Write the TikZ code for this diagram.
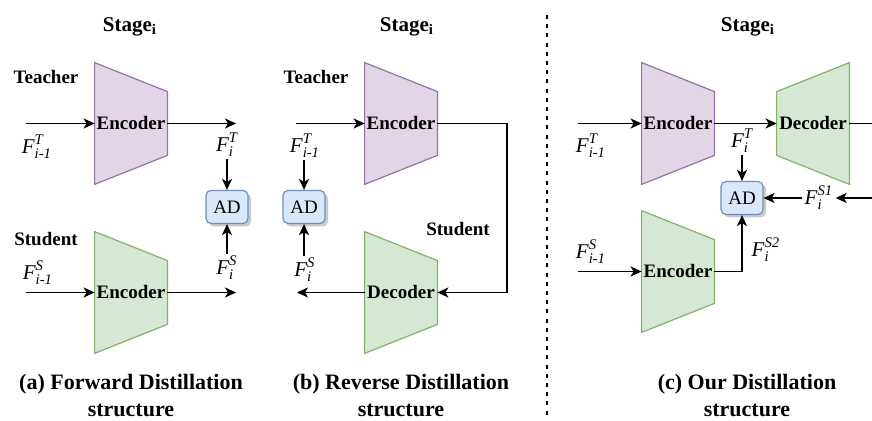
\documentclass[tikz,border=0pt]{standalone}
\usepackage{amsmath}
\usepackage{fontspec}
\setmainfont{LiberationSerif}[Extension=.ttf,UprightFont=*-Regular,BoldFont=*-Bold,ItalicFont=*-Italic,BoldItalicFont=*-BoldItalic]
\usetikzlibrary{arrows.meta,calc,backgrounds,shadows}
\definecolor{TeachFill}{RGB}{225,213,231}
\definecolor{TeachLine}{RGB}{150,115,166}
\definecolor{StudFill}{RGB}{213,232,212}
\definecolor{StudLine}{RGB}{130,179,102}
\definecolor{ADFill}{RGB}{218,232,252}
\definecolor{ADLine}{RGB}{108,142,191}
\newcommand{\feat}[2]{$\textit{F}^{\textit{#1}}_{\textit{#2}}$}

\tikzset{
  stage/.style={font=\bfseries\fontsize{10.5}{12}\selectfont},
  role/.style={font=\bfseries\fontsize{9.5}{11}\selectfont},
  block/.style={minimum width=36pt,minimum height=60.5pt,inner sep=0pt,font=\bfseries\fontsize{9.5}{11}\selectfont},
  ad/.style={draw=ADLine,fill=ADFill,line width=0.6pt,rounded corners=2.5pt,minimum width=21pt,minimum height=16.5pt,inner sep=0pt,
    font=\fontsize{9.5}{11}\selectfont,drop shadow={shadow xshift=1.5pt,shadow yshift=-1.5pt,fill=black!35,opacity=0.6}},
  feat/.style={font=\fontsize{10.5}{12}\selectfont,inner sep=1pt},
  flow/.style={line width=0.9pt,-{Stealth[length=5.5pt,width=5pt,inset=1.5pt]}},
  wire/.style={line width=0.9pt},
  caption/.style={align=center,font=\bfseries\fontsize{11}{13.5}\selectfont},
  teach/.style={draw=TeachLine,fill=TeachFill,line width=0.6pt},
  stud/.style={draw=StudLine,fill=StudFill,line width=0.6pt},
}

\begin{document}
\begin{tikzpicture}[x=0.5pt,y=-0.5pt]
  \useasboundingbox (0,0) rectangle (872,421);

  % (a) forward distillation
  \node[stage] (stageA) at (130,27) {Stage\textsubscript{i}};
  \node[role] (teachA) at (46,77) {Teacher};
  \node[block] (encA) at (131,123.5) {Encoder};
  \coordinate (inA) at (26,123.5);
  \coordinate (outA) at (236,123.5);
  \node[feat] (fpA) at (37,147) {\feat{T}{i-1}};
  \node[feat] (ftA) at (227,145) {\feat{T}{i}};
  \node[ad] (adA) at (227,207) {AD};
  \node[feat] (fsA) at (227,268) {\feat{S}{i}};
  \node[role] (studA) at (46,239) {Student};
  \node[block] (encSA) at (131,292.5) {Encoder};
  \coordinate (inSA) at (26,292.5);
  \coordinate (outSA) at (236,292.5);
  \node[feat] (fpSA) at (38,273) {\feat{S}{i-1}};
  \node[caption] (capA) at (131,396) {(a) Forward Distillation\\structure};
  \draw[flow] (inA) -- (encA.west);
  \draw[flow] (encA.east) -- (outA);
  \draw[flow] (ftA.south) -- (adA.north);
  \draw[flow] (fsA.north) -- (adA.south);
  \draw[flow] (inSA) -- (encSA.west);
  \draw[flow] (encSA.east) -- (outSA);

  % (b) reverse distillation
  \node[stage] (stageB) at (407,27) {Stage\textsubscript{i}};
  \node[role] (teachB) at (316,77) {Teacher};
  \node[block] (encB) at (401,123.5) {Encoder};
  \coordinate (inB) at (296,123.5);
  \coordinate (turnB) at (507,123.5);
  \node[feat] (fpB) at (305,146) {\feat{T}{i-1}};
  \node[ad] (adB) at (304,207) {AD};
  \node[feat] (fsB) at (305,270) {\feat{S}{i}};
  \node[role] (studB) at (458,229) {Student};
  \node[block] (decB) at (401,292.5) {Decoder};
  \coordinate (outB) at (297,292.5);
  \node[caption] (capB) at (401,396) {(b) Reverse Distillation\\structure};
  \draw[flow] (inB) -- (encB.west);
  \draw[flow] (encB.east) -- (turnB) |- (decB.east);
  \draw[flow] (decB.west) -- (outB);
  \draw[flow] (fpB.south -| adB) -- (adB.north);
  \draw[flow] (fsB.north -| adB) -- (adB.south);

  % divider
  \coordinate (topD) at (547,15);
  \coordinate (botD) at (547,417);
  \draw[line width=0.75pt,dash pattern=on 2pt off 2.6pt] (topD) -- (botD);

  % (c) our distillation
  \node[stage] (stageC) at (748,27) {Stage\textsubscript{i}};
  \node[block] (encC) at (678,123.5) {Encoder};
  \node[block] (decC) at (813,123.5) {Decoder};
  \coordinate (inC) at (578,123.5);
  \coordinate (edgeC) at (872,123.5);
  \node[feat] (fpC) at (591,146) {\feat{T}{i-1}};
  \node[feat] (ftC) at (742,141) {\feat{T}{i}};
  \node[ad] (adC) at (742,198) {AD};
  \node[feat] (fs1C) at (819,198) {\feat{S1}{i}};
  \coordinate (edgeS1) at (872,198);
  \node[block] (encSC) at (678,271.5) {Encoder};
  \coordinate (inSC) at (578,271.5);
  \node[feat] (fpSC) at (591,252) {\feat{S}{i-1}};
  \node[feat] (fs2C) at (766,250) {\feat{S2}{i}};
  \node[caption] (capC) at (747,396) {(c) Our Distillation\\structure};
  \draw[flow] (inC) -- (encC.west);
  \draw[flow] (encC.east) -- (decC.west);
  \draw[wire] (decC.east) -- (edgeC);
  \draw[flow] (ftC.south) -- (adC.north);
  \draw[flow] (edgeS1) -- (fs1C.east);
  \draw[flow] (fs1C.west) -- (adC.east);
  \draw[flow] (inSC) -- (encSC.west);
  \draw[flow] (encSC.east) -| (adC.south);

  % trapezoids behind the labels
  \begin{scope}[on background layer]
    \path[teach] (encA.north west) -- ([yshift=-14.5pt]encA.north east) -- ([yshift=14.5pt]encA.south east) -- (encA.south west) -- cycle;
    \path[stud] (encSA.north west) -- ([yshift=-14.5pt]encSA.north east) -- ([yshift=14.5pt]encSA.south east) -- (encSA.south west) -- cycle;
    \path[teach] (encB.north west) -- ([yshift=-14.5pt]encB.north east) -- ([yshift=14.5pt]encB.south east) -- (encB.south west) -- cycle;
    \path[stud] (decB.north west) -- ([yshift=-14.5pt]decB.north east) -- ([yshift=14.5pt]decB.south east) -- (decB.south west) -- cycle;
    \path[teach] (encC.north west) -- ([yshift=-14.5pt]encC.north east) -- ([yshift=14.5pt]encC.south east) -- (encC.south west) -- cycle;
    \path[stud] ([yshift=-14.5pt]decC.north west) -- (decC.north east) -- (decC.south east) -- ([yshift=14.5pt]decC.south west) -- cycle;
    \path[stud] (encSC.north west) -- ([yshift=-14.5pt]encSC.north east) -- ([yshift=14.5pt]encSC.south east) -- (encSC.south west) -- cycle;
  \end{scope}
\end{tikzpicture}
\end{document}
